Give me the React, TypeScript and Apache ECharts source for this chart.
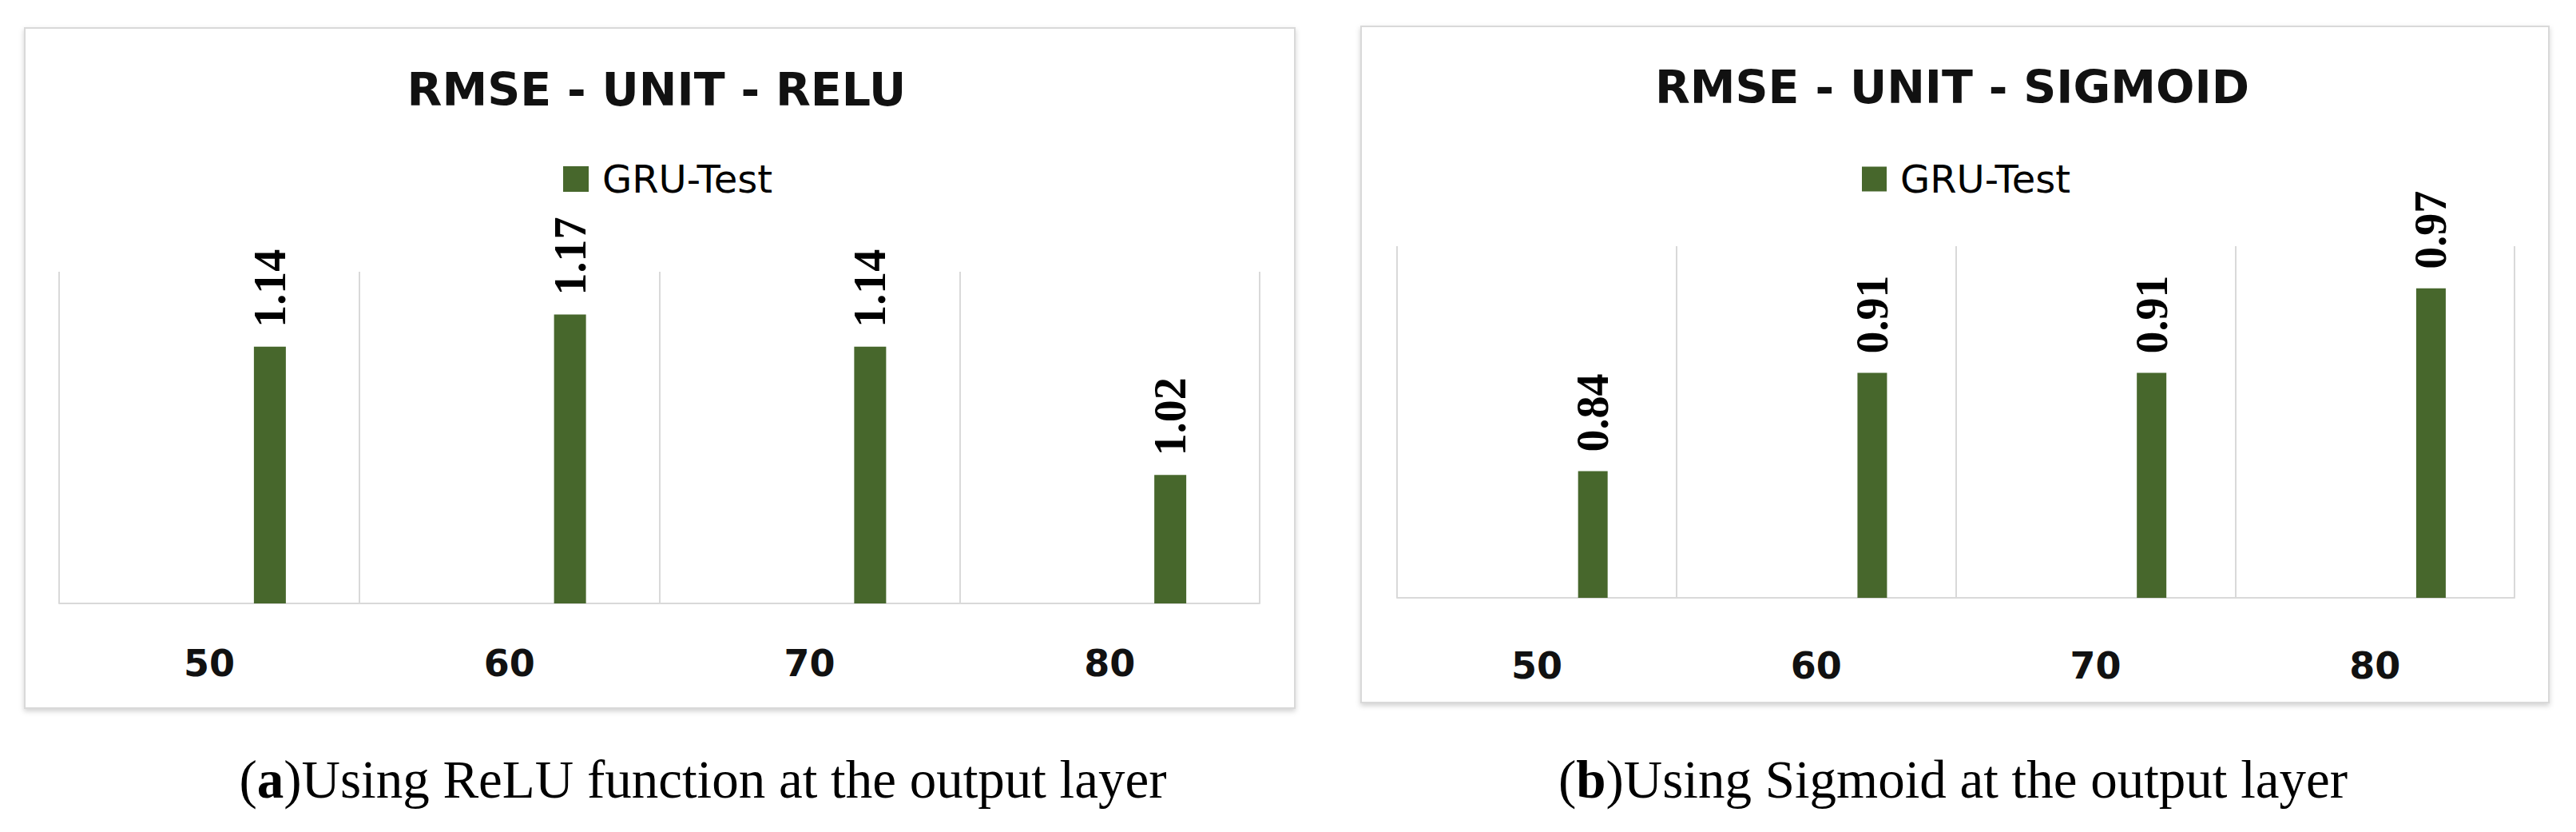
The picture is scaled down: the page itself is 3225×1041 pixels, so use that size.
import React, { useEffect, useRef } from "react";
import * as echarts from "echarts";

const categories = ["50", "60", "70", "80"];
const reluValues = [1.14, 1.17, 1.14, 1.02];
const sigmoidValues = [0.84, 0.91, 0.91, 0.97];
const seriesName = "GRU-Test";
const titleRelu = "RMSE - UNIT - RELU";
const titleSigmoid = "RMSE - UNIT - SIGMOID";
const captionRelu = ")Using ReLU function at the output layer";
const captionSigmoid = ")Using Sigmoid at the output layer";

const GREEN = "#47672c";
const GRID = "#d9d9d9";

function barSeries(idx: number, data: number[], width: number) {
  const empty = data.map(() => null);
  const dummy = (n: number) => ({
    type: "bar",
    name: "_hidden" + idx + "_" + n,
    xAxisIndex: idx,
    yAxisIndex: idx,
    barWidth: width,
    data: empty,
    silent: true,
  });
  return [
    dummy(1),
    dummy(2),
    {
      type: "bar",
      name: seriesName,
      xAxisIndex: idx,
      yAxisIndex: idx,
      barWidth: width,
      barGap: "90%",
      data,
      itemStyle: { color: GREEN },
      label: {
        show: true,
        position: "top",
        rotate: 90,
        distance: 24,
        align: "left",
        verticalAlign: "middle",
        formatter: (p: any) => Number(p.value).toFixed(2),
        fontFamily: "Liberation Serif",
        fontWeight: "bold",
        fontSize: 56,
        color: "#000",
      },
    },
  ];
}

function xAxis(idx: number, margin: number) {
  return {
    type: "category",
    gridIndex: idx,
    data: categories,
    axisTick: { show: false },
    axisLine: { lineStyle: { color: GRID, width: 2 } },
    splitLine: { show: true, lineStyle: { color: GRID, width: 2 } },
    axisLabel: {
      margin,
      fontFamily: "DejaVu Sans",
      fontWeight: "bold",
      fontSize: 46,
      color: "#111",
    },
  };
}

function legend(left: number, size: number) {
  return {
    data: [seriesName],
    left,
    top: 195,
    icon: "rect",
    itemWidth: size,
    itemHeight: size,
    itemGap: 10,
    textStyle: { fontFamily: "DejaVu Sans", fontSize: 48, color: "#000", padding: [0, 0, 0, 12] },
    selectedMode: false,
  };
}

function caption(x: number, letter: string, rest: string) {
  return {
    type: "text",
    x,
    y: 975,
    style: {
      text: "{p|(}{b|" + letter + "}{p|" + rest + "}",
      textAlign: "center",
      textVerticalAlign: "middle",
      rich: {
        p: { fontFamily: "Liberation Serif", fontSize: 67, fill: "#000" },
        b: { fontFamily: "Liberation Serif", fontSize: 67, fontWeight: "bold", fill: "#000" },
      },
    },
  };
}

function title(x: number, y: number, text: string) {
  return {
    type: "text",
    x,
    y,
    style: {
      text,
      fontFamily: "DejaVu Sans",
      fontWeight: "bold",
      fontSize: 57,
      fill: "#111",
      textAlign: "center",
      textVerticalAlign: "middle",
    },
  };
}

function box(x: number, y: number, w: number, h: number) {
  return {
    type: "rect",
    z: -10,
    shape: { x, y, width: w, height: h },
    style: {
      fill: "#fff",
      stroke: GRID,
      lineWidth: 2,
      shadowBlur: 6,
      shadowOffsetY: 3,
      shadowColor: "rgba(0,0,0,0.18)",
    },
  };
}

export default function App() {
  const ref = useRef<HTMLDivElement>(null);
  useEffect(() => {
    if (!ref.current) return;
    const chart = echarts.init(ref.current, null, { renderer: "svg" });
    const option: any = {
      animation: false,
      backgroundColor: "#fff",
      grid: [
        { left: 74, width: 1503, top: 340, height: 415 },
        { left: 1749, width: 1399, top: 308, height: 440 },
      ],
      xAxis: [xAxis(0, 52), xAxis(1, 62)],
      yAxis: [
        { type: "value", gridIndex: 0, min: 0.9, max: 1.21, show: false, splitLine: { show: false } },
        { type: "value", gridIndex: 1, min: 0.75, max: 1.0, show: false, splitLine: { show: false } },
      ],
      legend: [legend(700, 32), legend(2326, 31)],
      graphic: [
        box(31, 35, 1590, 851),
        box(1704, 33, 1487, 846),
        title(822, 112, titleRelu),
        title(2444, 109, titleSigmoid),
        caption(880, "a", captionRelu),
        caption(2445, "b", captionSigmoid),
      ],
      series: [...barSeries(0, reluValues, 40), ...barSeries(1, sigmoidValues, 37)],
    };
    chart.setOption(option);
    return () => chart.dispose();
  }, []);
  return (
    <div
      ref={ref}
      style={{ position: "absolute", left: 0, top: 0, width: 3225, height: 1041 }}
    />
  );
}
